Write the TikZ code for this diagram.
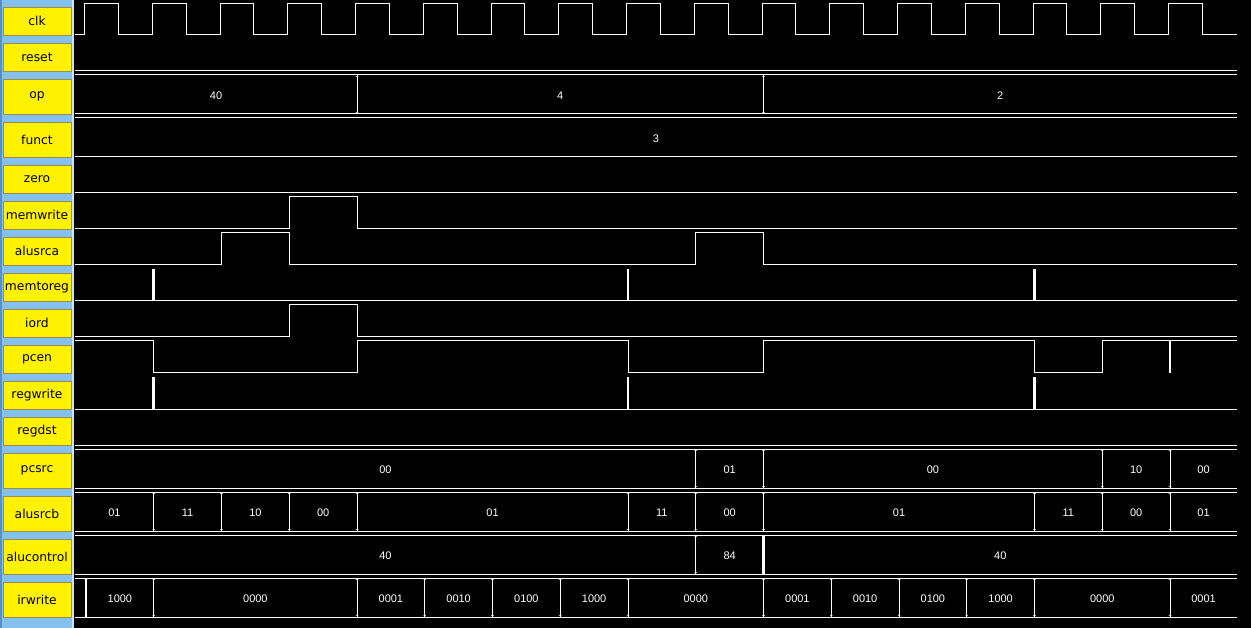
\documentclass[tikz,border=0pt]{standalone}
\usepackage{fontspec}
\setmainfont{DejaVu Sans}
\newfontfamily\valfont{Liberation Sans}
\definecolor{panelblue}{HTML}{85C1EE}
\definecolor{paneledge}{HTML}{5A90C8}
\definecolor{panellight}{HTML}{C8E4F8}
\definecolor{labelborder}{HTML}{A08A50}
\newcommand\busrow[3]{%
  \draw[wave] (75,#1) -- (1237,#1) (75,#2) -- (1237,#2);
  \foreach \a/\b/\v in {#3} {\node[val] at ({(\a+\b)/2},{(#1+#2)/2+1}) {\v};}
}
\newcommand\busedges[3]{%
  \foreach \x in {#3} {\draw[trans] (\x,#1) -- (\x,#2);
    \draw[tick] (\x-1.3,#1+1) -- (\x,#1+2) -- (\x+1.3,#1+1);
    \draw[tick] (\x-1.3,#2-1) -- (\x,#2-2) -- (\x+1.3,#2-1);}
}
\begin{document}
\begin{tikzpicture}[x=1pt,y=-1pt,
  wave/.style={draw=white, line width=1pt},
  spike/.style={draw=white, line width=2.6pt},
  trans/.style={draw=white, line width=0.9pt},
  thicktrans/.style={draw=white, line width=2.6pt},
  tick/.style={draw=white, line width=0.5pt},
  lbl/.style={draw=labelborder, fill=yellow, line width=0.9pt, minimum width=68pt,
    inner sep=0pt, text=black, font=\fontsize{12.3}{12.3}\selectfont},
  val/.style={text=white, inner sep=0pt, font=\valfont\fontsize{11}{11}\selectfont}]
\useasboundingbox (0,0) rectangle (1251,628);
\fill[black] (0,0) rectangle (1251,628);
\fill[panelblue] (0,0) rectangle (73,628);
\fill[paneledge] (0,0) rectangle (1.5,628);
\fill[panellight] (72,0) rectangle (73.5,628);

% labels
\node[lbl, minimum height=28pt] (clk) at (37,21) {clk};
\node[lbl, minimum height=28pt] (reset) at (37,57) {reset};
\node[lbl, minimum height=35pt] (op) at (37,96.5) {op};
\node[lbl, minimum height=35pt] (funct) at (37,139.5) {funct};
\node[lbl, minimum height=28pt] (zero) at (37,179) {zero};
\node[lbl, minimum height=28pt] (memwrite) at (37,215) {memwrite};
\node[lbl, minimum height=28pt] (alusrca) at (37,251) {alusrca};
\node[lbl, minimum height=28pt] (memtoreg) at (37,287) {memtoreg};
\node[lbl, minimum height=28pt] (iord) at (37,323) {iord};
\node[lbl, minimum height=28pt] (pcen) at (37,359) {pcen};
\node[lbl, minimum height=28pt] (regwrite) at (37,395) {regwrite};
\node[lbl, minimum height=28pt] (regdst) at (37,431) {regdst};
\node[lbl, minimum height=35pt] (pcsrc) at (37,470.5) {pcsrc};
\node[lbl, minimum height=35pt] (alusrcb) at (37,513.5) {alusrcb};
\node[lbl, minimum height=35pt] (alucontrol) at (37,556.5) {alucontrol};
\node[lbl, minimum height=35pt] (irwrite) at (37,599.5) {irwrite};

% clk
\draw[wave] (75,35) foreach \k in {0,...,16} {
  -- ({84.5+67.75*\k},35) -- ({84.5+67.75*\k},3.5) -- ({118.4+67.75*\k},3.5) -- ({118.4+67.75*\k},35)
} -- (1237,35);
% reset
\draw[wave] (75,71) -- (1237,71);
% op
\busrow{75}{114}{75/357/40, 357/763.5/4, 763.5/1237/2}
\busedges{75}{114}{357,763.5}
% funct
\busrow{118}{157}{75/1237/3}
% zero
\draw[wave] (75,193) -- (1237,193);
% memwrite
\draw[wave] (75,229) -- (289.25,229) -- (289.25,197) -- (357,197) -- (357,229) -- (1237,229);
% alusrca
\draw[wave] (75,265) -- (221.5,265) -- (221.5,233) -- (289.25,233) -- (289.25,265)
  -- (695.75,265) -- (695.75,233) -- (763.5,233) -- (763.5,265) -- (1237,265);
% memtoreg
\draw[wave] (75,301) -- (1237,301);
\foreach \x in {153.75,628,1034.5} {\draw[spike] (\x,269) -- (\x,301);}
% iord
\draw[wave] (75,337) -- (289.25,337) -- (289.25,305) -- (357,305) -- (357,337) -- (1237,337);
% pcen
\draw[wave] (75,341) -- (153.75,341) -- (153.75,373) -- (357,373) -- (357,341)
  -- (628,341) -- (628,373) -- (763.5,373) -- (763.5,341) -- (1034.5,341)
  -- (1034.5,373) -- (1102.25,373) -- (1102.25,341) -- (1237,341);
\draw[spike] (1170,341) -- (1170,373);
% regwrite
\draw[wave] (75,409) -- (1237,409);
\foreach \x in {153.75,628,1034.5} {\draw[spike] (\x,377) -- (\x,409);}
% regdst
\draw[wave] (75,445) -- (1237,445);
% pcsrc
\busrow{449}{488}{75/695.75/00, 695.75/763.5/01, 763.5/1102.25/00, 1102.25/1170/10, 1170/1237/00}
\busedges{449}{488}{695.75,763.5,1102.25,1170}
% alusrcb
\busrow{492}{531}{75/153.75/01, 153.75/221.5/11, 221.5/289.25/10, 289.25/357/00, 357/628/01,
  628/695.75/11, 695.75/763.5/00, 763.5/1034.5/01, 1034.5/1102.25/11, 1102.25/1170/00, 1170/1237/01}
\busedges{492}{531}{153.75,221.5,289.25,357,628,695.75,763.5,1034.5,1102.25,1170}
% alucontrol
\busrow{535}{574}{75/695.75/40, 695.75/763.5/84, 763.5/1237/40}
\busedges{535}{574}{695.75,763.5}
\draw[thicktrans] (763.5,535) -- (763.5,574);
% irwrite
\busrow{578}{617}{86/153.75/1000, 153.75/357/0000, 357/424.75/0001, 424.75/492.5/0010,
  492.5/560.25/0100, 560.25/628/1000, 628/763.5/0000, 763.5/831.25/0001, 831.25/899/0010,
  899/966.75/0100, 966.75/1034.5/1000, 1034.5/1170/0000, 1170/1237/0001}
\busedges{578}{617}{86,153.75,357,424.75,492.5,560.25,628,763.5,831.25,899,966.75,1034.5,1170}
\draw[thicktrans] (86,578) -- (86,617);
\end{tikzpicture}
\end{document}
